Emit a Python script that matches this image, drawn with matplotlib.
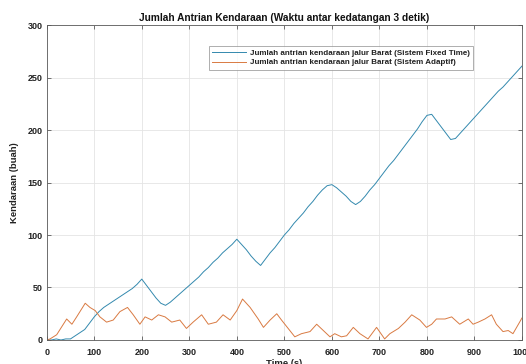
import numpy as np
import matplotlib
matplotlib.use("Agg")
import matplotlib.pyplot as plt

plt.rcParams['font.family'] = ['Liberation Sans', 'DejaVu Sans']

# Queue length, west approach, fixed-time control (sampled every 10 s)
fixed_t = np.arange(0, 1001, 10)
fixed_v = [0, 0, 1, 0, 1, 1, 4, 7, 10, 16,
           22, 27, 31, 34, 37, 40, 43, 46, 49, 53,
           58, 52, 46, 40, 35, 33, 36, 40, 44, 48,
           52, 56, 60, 65, 69, 74, 78, 83, 87, 91,
           96, 91, 86, 80, 75, 71, 77, 83, 88, 94,
           100, 105, 111, 116, 121, 127, 132, 138, 143, 147,
           148, 145, 141, 137, 132, 129, 132, 137, 143, 148,
           154, 160, 166, 171, 177, 183, 189, 195, 201, 208,
           214, 215, 209, 203, 197, 191, 192, 197, 202, 207,
           212, 217, 222, 227, 232, 237, 241, 246, 251, 256, 261]

# Queue length, west approach, adaptive control
adaptive_t = [0, 7, 21, 42, 53, 63, 81, 91, 102, 112,
              126, 140, 154, 170, 182, 196, 207, 221, 235, 249,
              263, 280, 294, 308, 326, 340, 357, 371, 386, 400,
              412, 428, 445, 456, 470, 484, 494, 508, 522, 536,
              554, 568, 582, 596, 606, 620, 631, 645, 659, 676,
              694, 711, 722, 740, 754, 768, 785, 799, 810, 820,
              838, 852, 869, 887, 897, 908, 922, 936, 946, 960,
              971, 981, 995, 1000]
adaptive_v = [0, 1, 5, 20, 15, 22, 35, 31, 28, 22,
              17, 19, 27, 31, 24, 15, 22, 19, 24, 22,
              17, 19, 11, 17, 24, 15, 17, 24, 19, 28,
              39, 31, 20, 12, 19, 25, 19, 11, 3, 6,
              8, 15, 9, 3, 6, 3, 4, 12, 6, 1,
              12, 1, 6, 11, 17, 24, 19, 12, 15, 20,
              20, 22, 15, 20, 15, 17, 20, 24, 15, 8,
              9, 6, 17, 21]

x_ticks = np.arange(0, 1001, 100)
y_ticks = np.arange(0, 301, 50)

title = "Jumlah Antrian Kendaraan (Waktu antar kedatangan 3 detik)"
labels = ["Jumlah antrian kendaraan jalur Barat (Sistem Fixed Time)",
          "Jumlah antrian kendaraan jalur Barat (Sistem Adaptif)"]

fig = plt.figure(figsize=(5.26, 3.64), dpi=100, facecolor='white')
ax = fig.add_axes([0.0888, 0.066, 0.9036, 0.865])

ax.plot(fixed_t, fixed_v, color='#3389ae', lw=0.7, label=labels[0])
ax.plot(adaptive_t, adaptive_v, color='#d97a42', lw=0.7, label=labels[1])

ax.set_xlim(0, 1000)
ax.set_ylim(0, 300)
ax.set_xticks(x_ticks)
ax.set_yticks(y_ticks)
ax.grid(True, color='#e4e4e4', lw=0.6)
ax.set_axisbelow(True)

for s in ax.spines.values():
    s.set_color('#5a5a5a')
    s.set_linewidth(0.6)
ax.tick_params(direction='in', length=3, width=0.6, color='#5a5a5a',
               top=True, right=True, labelsize=6.5, pad=3, labelcolor='#222222')
ax.tick_params(axis='x', pad=5.5)
for lab in ax.get_xticklabels() + ax.get_yticklabels():
    lab.set_fontweight('bold')

ax.set_title(title, fontsize=7.3, fontweight='bold', color='#111111', pad=3)
ax.set_ylabel("Kendaraan (buah)", fontsize=6.8, fontweight='bold', color='#222222', labelpad=6)
ax.set_xlabel("Time (s)", fontsize=6.8, fontweight='bold', color='#222222', labelpad=2)

leg = ax.legend(loc='upper right', bbox_to_anchor=(0.905, 0.947),
                frameon=True, fancybox=False, handlelength=4.2, handletextpad=0.5,
                borderpad=0.4, labelspacing=0.25, prop={'weight': 'bold', 'size': 5.8})
leg.get_frame().set_edgecolor('#8a8a8a')
leg.get_frame().set_linewidth(0.6)
for t in leg.get_texts():
    t.set_color('#222222')

fig.savefig("out.png", dpi=100, facecolor='white')
